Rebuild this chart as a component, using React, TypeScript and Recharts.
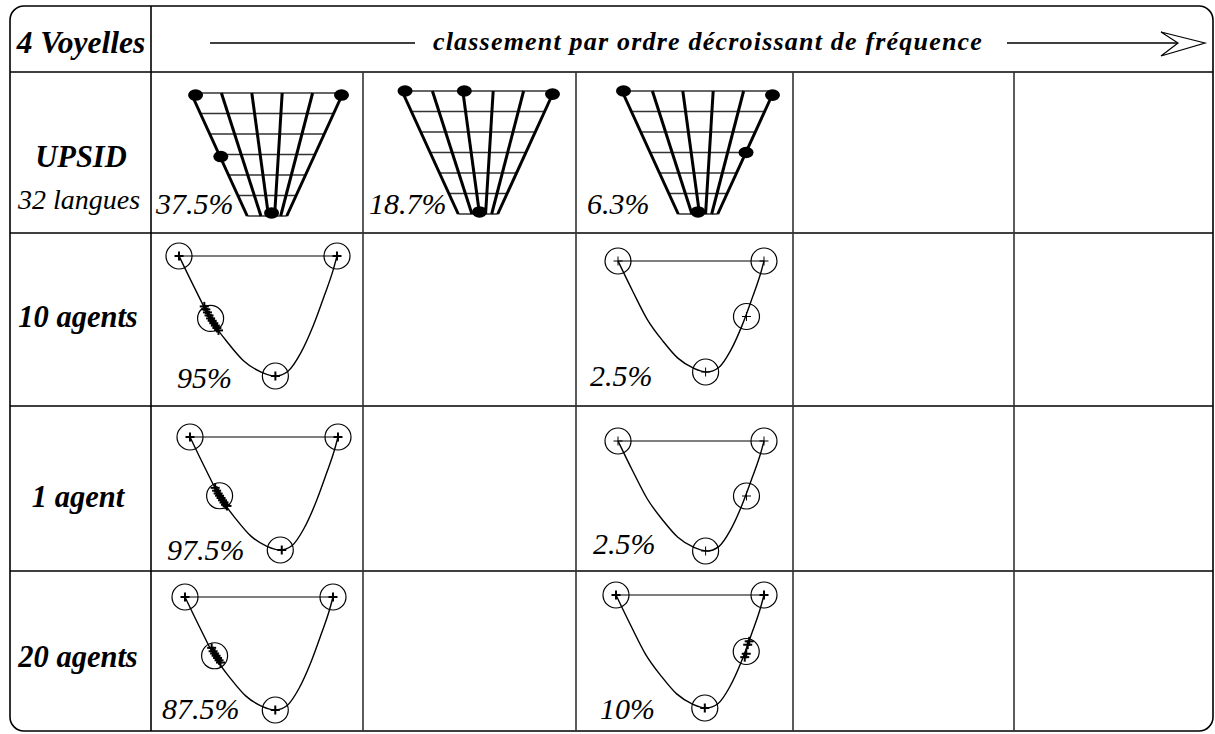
import React from 'react';
import { ComposedChart, Line, Scatter, XAxis, YAxis } from 'recharts';

// UPSID vowel grid: x runs 0..5 along the top edge, y is the level 0..6 (top to bottom)
const GRID_TOP_X = [0, 1, 2, 3, 4, 5];
const GRID_BOTTOM_X = [1.85, 2.3, 2.55, 2.75, 2.95, 3.15];
const GRID_LEVELS = [0, 1, 2, 3, 4, 5, 6];
const GRID_LEFT_X = [0, 0.31, 0.62, 0.93, 1.23, 1.54, 1.85];
const GRID_RIGHT_X = [5, 4.69, 4.38, 4.08, 3.77, 3.46, 3.15];

// the three most frequent 4-vowel systems in UPSID
const UPSID_FIRST = [{ x: 0.15, y: 0.1 }, { x: 4.95, y: 0.1 }, { x: 0.98, y: 3.1 }, { x: 2.65, y: 5.85 }];
const UPSID_SECOND = [{ x: 0.1, y: 0 }, { x: 2.05, y: 0 }, { x: 4.95, y: 0.15 }, { x: 2.55, y: 5.9 }];
const UPSID_THIRD = [{ x: 0.05, y: 0 }, { x: 4.95, y: 0.2 }, { x: 4.08, y: 3 }, { x: 2.5, y: 5.9 }];
const UPSID_SHARES = ['37.5%', '18.7%', '6.3%'];

// simulated vowel space: x 0..100 (left to right), y 0..100 (top edge to bottom)
const SPACE_CURVE_X = [0, 10, 20, 31, 41, 52, 61, 69, 77, 85, 92, 97.5, 100];
const SPACE_CURVE_Y = [0, 27, 52.5, 72.5, 87.5, 96.7, 100, 96, 81, 58, 33, 12, 0];
const SPACE_TOP_X = [0, 100];

// prototypes (circles)
const PROTOS_FRONT = [{ x: 0, y: 0 }, { x: 100, y: 0 }, { x: 20, y: 52 }, { x: 61, y: 100 }];
const PROTOS_BACK = [{ x: 0, y: 0 }, { x: 100, y: 0 }, { x: 88, y: 50 }, { x: 60, y: 100 }];

// agents' vowels (crosses)
const AGENTS_10_FRONT = [
  { x: 0, y: 0 }, { x: 100, y: 0 }, { x: 61, y: 100 },
  { x: 16, y: 42 }, { x: 17, y: 44.5 }, { x: 18, y: 47 }, { x: 19, y: 49.5 }, { x: 20, y: 52 },
  { x: 21, y: 54 }, { x: 22, y: 56 }, { x: 23, y: 58 }, { x: 24, y: 60 }, { x: 25, y: 62 },
];
const AGENTS_1_FRONT = [
  { x: 0, y: 0 }, { x: 100, y: 0 }, { x: 62, y: 100 },
  { x: 17, y: 45 }, { x: 18, y: 47.5 }, { x: 19, y: 50 }, { x: 20, y: 52 }, { x: 21, y: 54 },
  { x: 22, y: 56 }, { x: 23, y: 58 }, { x: 24, y: 60 }, { x: 25, y: 61 },
];
const AGENTS_20_FRONT = [
  { x: 0, y: 0 }, { x: 100, y: 0 }, { x: 61, y: 100 },
  { x: 18, y: 45 }, { x: 19, y: 48 }, { x: 20, y: 50 }, { x: 21, y: 52 }, { x: 22, y: 54 },
  { x: 23, y: 56 }, { x: 24, y: 58 },
];
const AGENTS_10_BACK = [{ x: 0, y: 0 }, { x: 100, y: 0 }, { x: 88, y: 50 }, { x: 60, y: 100 }];
const AGENTS_1_BACK = [{ x: 0, y: 0 }, { x: 100, y: 0 }, { x: 88, y: 50 }, { x: 60, y: 100 }];
const AGENTS_20_BACK = [
  { x: 0, y: 0 }, { x: 100, y: 0 }, { x: 60, y: 100 },
  { x: 90, y: 41 }, { x: 89, y: 44 }, { x: 88, y: 52 }, { x: 87, y: 55 },
];

const ROW_NAMES = ['10 agents', '1 agent', '20 agents'];
const FRONT_SHARES = ['95%', '97.5%', '87.5%'];
const BACK_SHARES = ['2.5%', '2.5%', '10%'];

const FONT = '"Liberation Serif", "Times New Roman", serif';

const curveData = SPACE_CURVE_X.map((x, i) => ({ x, y: SPACE_CURVE_Y[i] }));
const topEdge = SPACE_TOP_X.map((x) => ({ x, y: 0 }));

const Blob = (props: any) => (
  <ellipse cx={props.cx} cy={props.cy} rx={7.5} ry={5.8} fill="#000" />
);

const Ring = (props: any) => (
  <circle cx={props.cx} cy={props.cy} r={13} fill="none" stroke="#000" strokeWidth={1.2} />
);

const makeCross = (w: number) => (props: any) => (
  <g stroke="#000" strokeWidth={w}>
    <line x1={props.cx - 4.5} y1={props.cy} x2={props.cx + 4.5} y2={props.cy} />
    <line x1={props.cx} y1={props.cy - 4.5} x2={props.cx} y2={props.cy + 4.5} />
  </g>
);

interface GridProps { x0: number; y0: number; w: number; h: number; dots: { x: number; y: number }[] }

const VowelGrid = ({ x0, y0, w, h, dots }: GridProps) => {
  const pad = 10;
  return (
    <div style={{ position: 'absolute', left: x0 - pad, top: y0 - pad }}>
      <ComposedChart width={w + 2 * pad} height={h + 2 * pad} margin={{ top: pad, right: pad, bottom: pad, left: pad }}>
        <XAxis type="number" dataKey="x" domain={[0, 5]} hide />
        <YAxis type="number" dataKey="y" domain={[0, 6]} reversed hide />
        {GRID_LEVELS.map((lv, i) => (
          <Line key={'h' + i} data={[{ x: GRID_LEFT_X[i], y: lv }, { x: GRID_RIGHT_X[i], y: lv }]}
            dataKey="y" stroke="#333" strokeWidth={1.3} dot={false} isAnimationActive={false} />
        ))}
        {GRID_TOP_X.map((tx, i) => (
          <Line key={'s' + i} data={[{ x: tx, y: 0 }, { x: GRID_BOTTOM_X[i], y: 6 }]}
            dataKey="y" stroke="#000" strokeWidth={3} dot={false} isAnimationActive={false} />
        ))}
        <Scatter data={dots} shape={Blob} isAnimationActive={false} />
      </ComposedChart>
    </div>
  );
};

interface SpaceProps {
  x0: number; y0: number; w: number; h: number;
  protos: { x: number; y: number }[];
  agents: { x: number; y: number }[];
  bold: boolean;
}

const VowelSpace = ({ x0, y0, w, h, protos, agents, bold }: SpaceProps) => {
  const pad = 16;
  return (
    <div style={{ position: 'absolute', left: x0 - pad, top: y0 - pad }}>
      <ComposedChart width={w + 2 * pad} height={h + 2 * pad} margin={{ top: pad, right: pad, bottom: pad, left: pad }}>
        <XAxis type="number" dataKey="x" domain={[0, 100]} hide />
        <YAxis type="number" dataKey="y" domain={[0, 100]} reversed hide />
        <Line data={topEdge} dataKey="y" stroke="#000" strokeWidth={1.2} dot={false} isAnimationActive={false} />
        <Line data={curveData} dataKey="y" type="monotone" stroke="#000" strokeWidth={1.4} dot={false} isAnimationActive={false} />
        <Scatter data={protos} shape={Ring} isAnimationActive={false} />
        <Scatter data={agents} shape={makeCross(bold ? 2 : 1)} isAnimationActive={false} />
      </ComposedChart>
    </div>
  );
};

const GRID_BOXES = [
  { x0: 191, y0: 93, dots: UPSID_FIRST, tx: 156 },
  { x0: 402, y0: 91, dots: UPSID_SECOND, tx: 369 },
  { x0: 622, y0: 91, dots: UPSID_THIRD, tx: 587 },
];

const FRONT_BOXES = [
  { x0: 179, y0: 256, w: 158, h: 120, agents: AGENTS_10_FRONT, lx: 177, ly: 388, ny: 327 },
  { x0: 190, y0: 437, w: 148, h: 113, agents: AGENTS_1_FRONT, lx: 167, ly: 560, ny: 507 },
  { x0: 185, y0: 597, w: 148, h: 113, agents: AGENTS_20_FRONT, lx: 162, ly: 719, ny: 667 },
];

const BACK_BOXES = [
  { x0: 618, y0: 261, w: 146, h: 111, agents: AGENTS_10_BACK, bold: false, lx: 590, ly: 386 },
  { x0: 618, y0: 441, w: 146, h: 110, agents: AGENTS_1_BACK, bold: false, lx: 593, ly: 554 },
  { x0: 616, y0: 595, w: 148, h: 113, agents: AGENTS_20_BACK, bold: true, lx: 600, ly: 719 },
];

const ROW_LINES = [72, 233, 406, 571];
const COL_LINES = [363, 576, 793, 1014];

export default function App() {
  return (
    <div style={{ position: 'absolute', left: 0, top: 0, width: 1215, height: 734, background: '#fff', fontFamily: FONT }}>
      <svg width={1215} height={734} style={{ position: 'absolute', left: 0, top: 0 }}>
        <rect x={10} y={6} width={1203} height={725} rx={14} ry={14} fill="none" stroke="#000" strokeWidth={1.6} />
        {ROW_LINES.map((y) => (
          <line key={y} x1={10} y1={y} x2={1213} y2={y} stroke="#000" strokeWidth={1.6} />
        ))}
        <line x1={151} y1={6} x2={151} y2={731} stroke="#000" strokeWidth={1.6} />
        {COL_LINES.map((x) => (
          <line key={x} x1={x} y1={72} x2={x} y2={731} stroke="#333" strokeWidth={1.6} />
        ))}

        <text x={81} y={53} textAnchor="middle" fontFamily={FONT} fontStyle="italic" fontWeight="bold" fontSize={31.5}>4 Voyelles</text>
        <line x1={210} y1={43} x2={415} y2={43} stroke="#000" strokeWidth={1.3} />
        <text x={708} y={50} textAnchor="middle" fontFamily={FONT} fontStyle="italic" fontWeight="bold" fontSize={26} letterSpacing={1.2}>
          classement par ordre décroissant de fréquence
        </text>
        <line x1={1007} y1={43} x2={1200} y2={43} stroke="#000" strokeWidth={1.3} />
        <polygon points="1161,32 1205,43 1161,56 1178,43" fill="#fff" stroke="#000" strokeWidth={1.2} />

        <text x={81} y={167} textAnchor="middle" fontFamily={FONT} fontStyle="italic" fontWeight="bold" fontSize={30.5}>UPSID</text>
        <text x={79} y={209} textAnchor="middle" fontFamily={FONT} fontStyle="italic" fontSize={28}>32 langues</text>
        {GRID_BOXES.map((b, i) => (
          <text key={i} x={b.tx} y={214} fontFamily={FONT} fontStyle="italic" fontSize={30}>{UPSID_SHARES[i]}</text>
        ))}

        {ROW_NAMES.map((name, i) => (
          <text key={name} x={78} y={FRONT_BOXES[i].ny} textAnchor="middle" fontFamily={FONT} fontStyle="italic" fontWeight="bold" fontSize={30.5}>{name}</text>
        ))}
        {FRONT_BOXES.map((b, i) => (
          <text key={'f' + i} x={b.lx} y={b.ly} fontFamily={FONT} fontStyle="italic" fontSize={30}>{FRONT_SHARES[i]}</text>
        ))}
        {BACK_BOXES.map((b, i) => (
          <text key={'b' + i} x={b.lx} y={b.ly} fontFamily={FONT} fontStyle="italic" fontSize={30}>{BACK_SHARES[i]}</text>
        ))}
      </svg>

      {GRID_BOXES.map((b, i) => (
        <VowelGrid key={'g' + i} x0={b.x0} y0={b.y0} w={152} h={123} dots={b.dots} />
      ))}
      {FRONT_BOXES.map((b, i) => (
        <VowelSpace key={'vf' + i} x0={b.x0} y0={b.y0} w={b.w} h={b.h} protos={PROTOS_FRONT} agents={b.agents} bold />
      ))}
      {BACK_BOXES.map((b, i) => (
        <VowelSpace key={'vb' + i} x0={b.x0} y0={b.y0} w={b.w} h={b.h} protos={PROTOS_BACK} agents={b.agents} bold={b.bold} />
      ))}
    </div>
  );
}
